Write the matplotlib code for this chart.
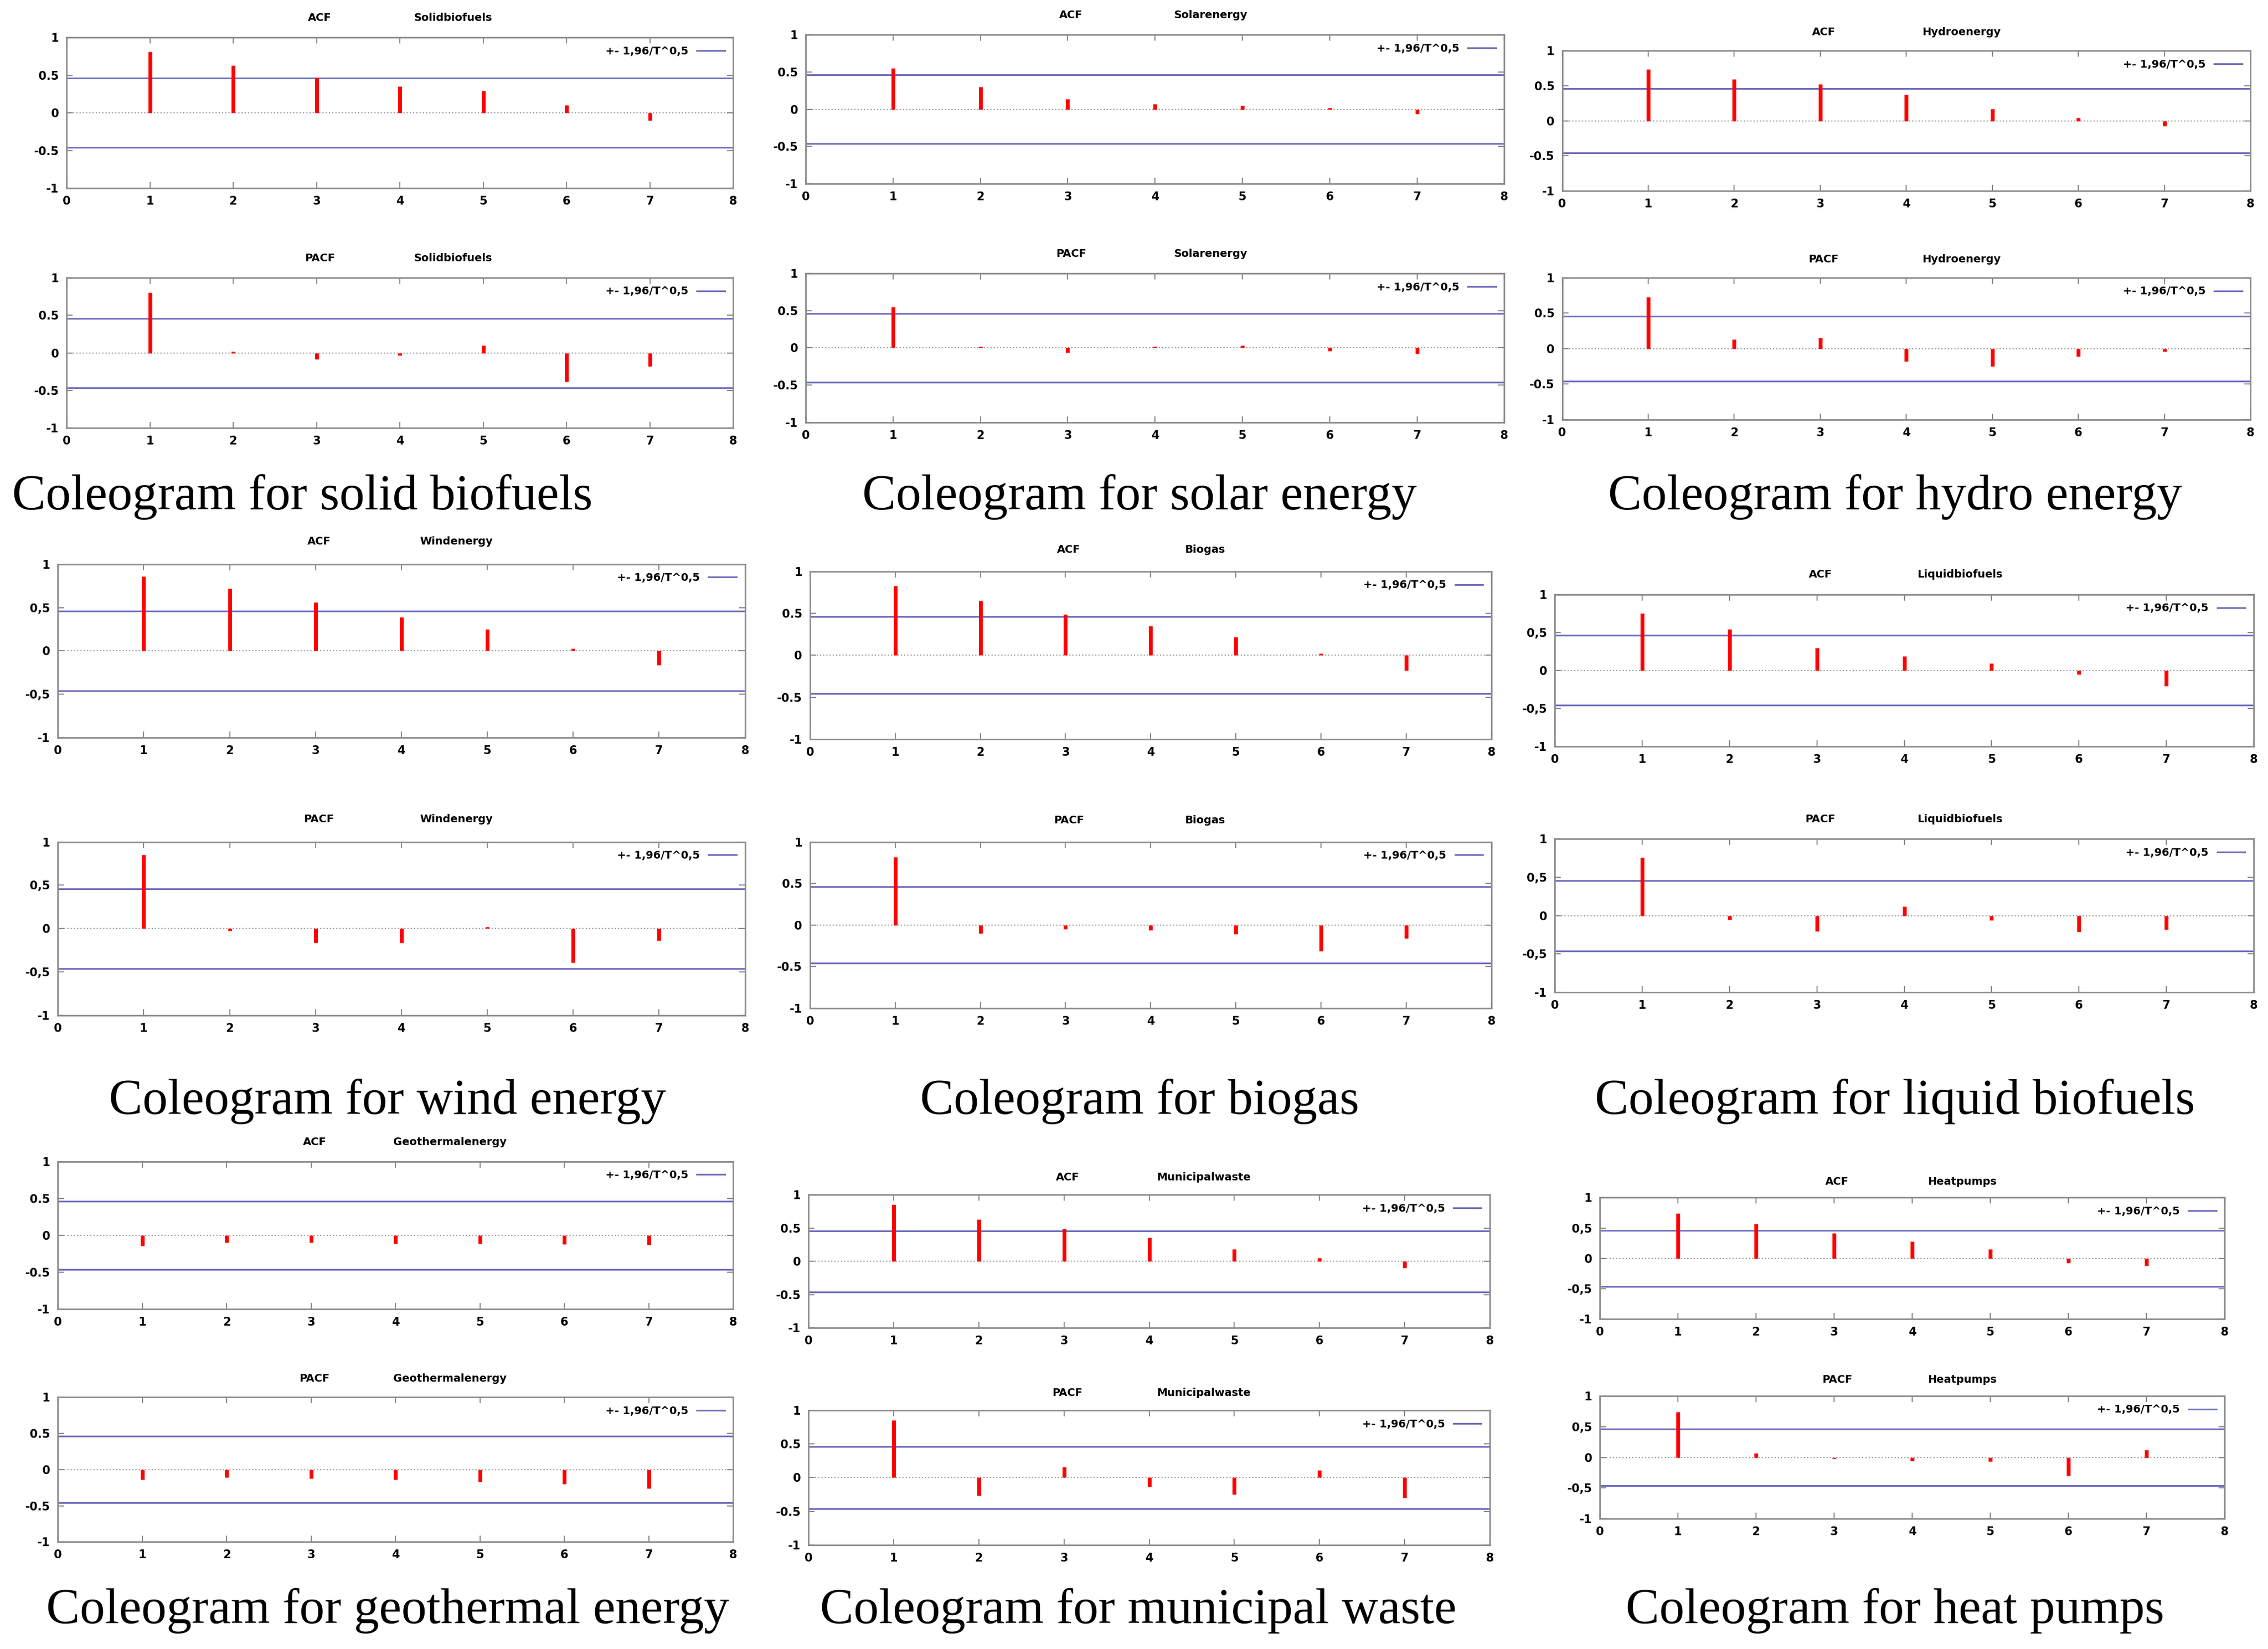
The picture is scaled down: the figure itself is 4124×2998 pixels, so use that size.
import matplotlib
matplotlib.use('Agg')
import matplotlib.pyplot as plt

# lags and significance band (+- 1.96/sqrt(T))
lags = [1, 2, 3, 4, 5, 6, 7]
band_limit = 0.46

# ACF / PACF values
acf_solid = [0.81, 0.63, 0.47, 0.35, 0.29, 0.10, -0.10]
pacf_solid = [0.80, 0.02, -0.08, -0.03, 0.10, -0.38, -0.18]
acf_solar = [0.55, 0.30, 0.14, 0.07, 0.05, 0.02, -0.06]
pacf_solar = [0.55, 0.02, -0.06, 0.02, 0.03, -0.04, -0.08]
acf_hydro = [0.73, 0.59, 0.52, 0.37, 0.17, 0.04, -0.07]
pacf_hydro = [0.73, 0.13, 0.15, -0.18, -0.25, -0.11, -0.04]
acf_wind = [0.86, 0.72, 0.56, 0.39, 0.25, 0.03, -0.16]
pacf_wind = [0.85, -0.02, -0.16, -0.16, 0.02, -0.39, -0.14]
acf_biogas = [0.83, 0.65, 0.49, 0.35, 0.22, 0.02, -0.18]
pacf_biogas = [0.82, -0.10, -0.05, -0.06, -0.11, -0.31, -0.16]
acf_liquid = [0.75, 0.54, 0.30, 0.19, 0.09, -0.05, -0.20]
pacf_liquid = [0.76, -0.05, -0.20, 0.12, -0.06, -0.21, -0.18]
acf_geo = [-0.14, -0.10, -0.10, -0.11, -0.11, -0.12, -0.13]
pacf_geo = [-0.14, -0.11, -0.12, -0.14, -0.17, -0.20, -0.26]
acf_municipal = [0.85, 0.63, 0.49, 0.36, 0.18, 0.05, -0.10]
pacf_municipal = [0.85, -0.27, 0.16, -0.14, -0.25, 0.11, -0.30]
acf_heat = [0.74, 0.57, 0.42, 0.28, 0.15, -0.07, -0.12]
pacf_heat = [0.74, 0.07, -0.02, -0.06, -0.07, -0.30, 0.12]

series_names = ['Solidbiofuels', 'Solarenergy', 'Hydroenergy',
                'Windenergy', 'Biogas', 'Liquidbiofuels',
                'Geothermalenergy', 'Municipalwaste', 'Heatpumps']
captions = ['Coleogram for solid biofuels', 'Coleogram for solar energy',
            'Coleogram for hydro energy', 'Coleogram for wind energy',
            'Coleogram for biogas', 'Coleogram for liquid biofuels',
            'Coleogram for geothermal energy', 'Coleogram for municipal waste',
            'Coleogram for heat pumps']
decimal_marks = ['.', '.', '.', ',', '.', ',', '.', '.', ',']

acf_list = [acf_solid, acf_solar, acf_hydro, acf_wind, acf_biogas,
            acf_liquid, acf_geo, acf_municipal, acf_heat]
pacf_list = [pacf_solid, pacf_solar, pacf_hydro, pacf_wind, pacf_biogas,
             pacf_liquid, pacf_geo, pacf_municipal, pacf_heat]

# layout in reference pixel units (1568 x 1140 view)
W, H = 1568.0, 1140.0
# x0, x1, acf top, acf bottom, pacf top, pacf bottom
boxes = [
    (46, 507, 26, 130, 192, 296),
    (557, 1040, 24, 127, 189, 292),
    (1080, 1556, 35, 132, 192, 290),
    (40, 515, 390, 510, 582, 702),
    (560, 1031, 395, 511, 582, 697),
    (1075, 1558, 411, 516, 580, 686),
    (40, 507, 803, 905, 966, 1066),
    (559, 1030, 826, 918, 975, 1068),
    (1106, 1538, 828, 912, 965, 1050),
]
caption_pos = [(209, 352), (788, 352), (1310, 352),
               (268, 770), (788, 770), (1310, 770),
               (268, 1122), (787, 1122), (1310, 1122)]

band_color = '#6f6fc0'
frame_color = '#8c8c8c'


def draw_panel(ax, values, kind, name, dec):
    ax.axhline(0, color='#a0a0a0', lw=1.6, ls=':', zorder=1)
    band = ax.axhline(band_limit, color=band_color, lw=2.2, zorder=2)
    ax.axhline(-band_limit, color=band_color, lw=2.2, zorder=2)
    ax.vlines(lags, 0, values, color='red', lw=5, zorder=3)
    ax.set_xlim(0, 8)
    ax.set_ylim(-1, 1)
    ax.set_xticks(range(9))
    ax.set_yticks([-1, -0.5, 0, 0.5, 1])
    ax.set_yticklabels(['-1', '-0' + dec + '5', '0', '0' + dec + '5', '1'])
    ax.tick_params(direction='in', top=True, right=True, length=8,
                   width=1.5, color=frame_color, labelsize=15, pad=10)
    for lab in ax.get_xticklabels() + ax.get_yticklabels():
        lab.set_fontweight('bold')
    for sp in ax.spines.values():
        sp.set_color(frame_color)
        sp.set_linewidth(2)
    ax.text(0.38, 1.13, kind, transform=ax.transAxes, ha='center',
            va='center', fontsize=14, fontweight='bold')
    ax.text(0.58, 1.13, name, transform=ax.transAxes, ha='center',
            va='center', fontsize=14, fontweight='bold')
    ax.legend([band], ['+- 1,96/T^0,5'], loc='upper right', frameon=False,
              markerfirst=False, handlelength=2.6,
              prop={'weight': 'bold', 'size': 14}, borderaxespad=0.4)


fig = plt.figure(figsize=(41.24, 29.98), dpi=100)

for i in range(9):
    x0, x1, at, ab, pt, pb = boxes[i]
    ax_acf = fig.add_axes([x0 / W, 1 - ab / H, (x1 - x0) / W, (ab - at) / H])
    draw_panel(ax_acf, acf_list[i], 'ACF', series_names[i], decimal_marks[i])
    ax_pacf = fig.add_axes([x0 / W, 1 - pb / H, (x1 - x0) / W, (pb - pt) / H])
    draw_panel(ax_pacf, pacf_list[i], 'PACF', series_names[i], decimal_marks[i])
    cx, cy = caption_pos[i]
    fig.text(cx / W, 1 - cy / H, captions[i], ha='center', va='baseline',
             fontsize=66, family='Liberation Serif')

fig.savefig('out.png', dpi=100, facecolor='white')
